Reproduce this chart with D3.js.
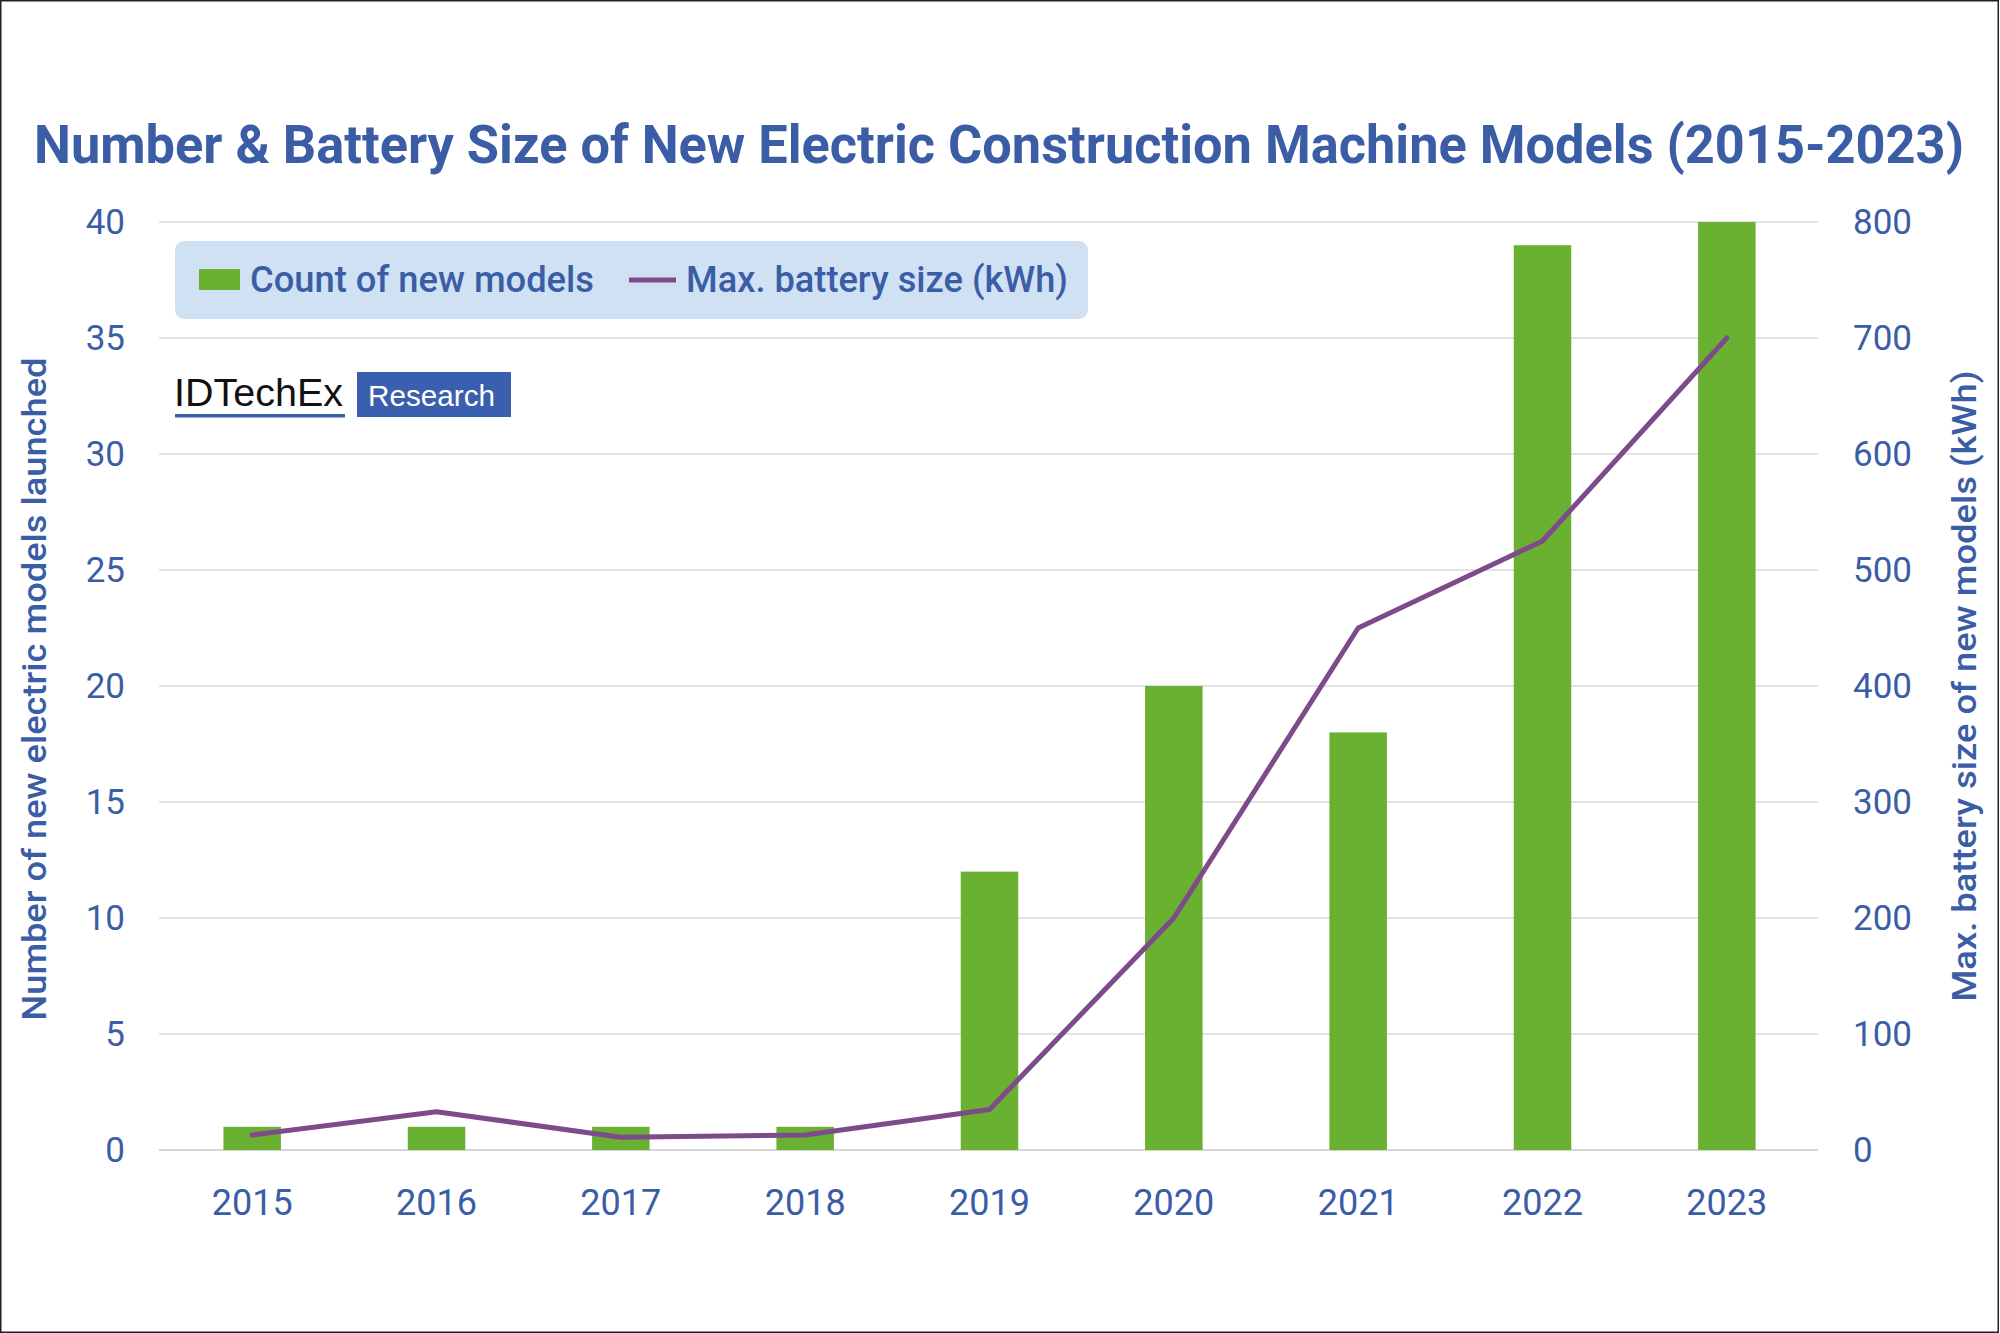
<!DOCTYPE html>
<html>
<head>
<meta charset="utf-8">
<script src="https://cdn.jsdelivr.net/npm/d3@7"></script>
<style>
  html, body { margin: 0; padding: 0; background: #fff; }
  svg { display: block; }
</style>
</head>
<body>
<svg id="chart" width="2000" height="1333"></svg>
<script>
const years = ["2015","2016","2017","2018","2019","2020","2021","2022","2023"];
const modelCounts = [1, 1, 1, 1, 12, 20, 18, 39, 40];
const maxBattery = [13, 33, 11, 13, 35, 200, 450, 525, 700];
const leftTicks = [0, 5, 10, 15, 20, 25, 30, 35, 40];
const rightTicks = [0, 100, 200, 300, 400, 500, 600, 700, 800];

const TITLE = "Number & Battery Size of New Electric Construction Machine Models (2015-2023)";
const LEFT_TITLE = "Number of new electric models launched";
const RIGHT_TITLE = "Max. battery size of new models (kWh)";
const LEGEND_BAR = "Count of new models";
const LEGEND_LINE = "Max. battery size (kWh)";

const BLUE = "#3b5da6";
const GREEN = "#6bb131";
const PURPLE = "#7d4b8b";
const FONT = "Roboto, 'Noto Sans', sans-serif";

const svg = d3.select("#chart");
svg.append("rect").attr("x", 0).attr("y", 0).attr("width", 2000).attr("height", 1333).attr("fill", "#fff");

const x = d3.scaleBand().domain(years).range([160, 1819]).padding(0);
const y = d3.scaleLinear().domain([0, 40]).range([1150, 222]);
const y2 = d3.scaleLinear().domain([0, 800]).range([1150, 222]);

// gridlines
svg.append("g").selectAll("line").data(leftTicks).join("line")
  .attr("x1", 159).attr("x2", 1818)
  .attr("y1", d => y(d)).attr("y2", d => y(d))
  .attr("stroke", d => d === 0 ? "#d6d6d6" : "#e3e3e3")
  .attr("stroke-width", 2);

// title
svg.append("text")
  .attr("x", 34).attr("y", 163)
  .attr("font-family", FONT).attr("font-weight", 700).attr("font-size", 53)
  .attr("fill", BLUE)
  .attr("textLength", 1930).attr("lengthAdjust", "spacingAndGlyphs")
  .text(TITLE);

// bars
const barW = x.bandwidth() * 0.312;
svg.append("g").selectAll("rect").data(years).join("rect")
  .attr("x", (d) => x(d) + x.bandwidth() / 2 - barW / 2)
  .attr("width", barW)
  .attr("y", (d, i) => y(modelCounts[i]))
  .attr("height", (d, i) => y(0) - y(modelCounts[i]))
  .attr("fill", GREEN);

// line
const line = d3.line()
  .x((d, i) => x(years[i]) + x.bandwidth() / 2)
  .y(d => y2(d));
svg.append("path").datum(maxBattery)
  .attr("d", line)
  .attr("fill", "none").attr("stroke", PURPLE)
  .attr("stroke-width", 5).attr("stroke-linejoin", "round").attr("stroke-linecap", "round");

// axes
function styleAxis(g) {
  g.select(".domain").remove();
  g.selectAll(".tick line").remove();
  g.selectAll("text").attr("font-family", FONT).attr("font-size", 35).attr("fill", BLUE).attr("font-weight", 400);
}
svg.append("g").attr("transform", "translate(159,0)")
  .call(d3.axisLeft(y).tickValues(leftTicks).tickSize(0).tickPadding(34))
  .call(styleAxis);
svg.append("g").attr("transform", "translate(1818,0)")
  .call(d3.axisRight(y2).tickValues(rightTicks).tickSize(0).tickPadding(35))
  .call(styleAxis);
const xa = svg.append("g").attr("transform", "translate(0,1150)")
  .call(d3.axisBottom(x).tickSize(0))
  .call(styleAxis);
xa.selectAll("text").attr("y", 65).attr("dy", 0).attr("font-size", 36);

// axis titles
svg.append("text")
  .attr("transform", "translate(46,689) rotate(-90)")
  .attr("text-anchor", "middle")
  .attr("font-family", FONT).attr("font-weight", 500).attr("font-size", 34)
  .attr("fill", BLUE)
  .attr("textLength", 663).attr("lengthAdjust", "spacingAndGlyphs")
  .text(LEFT_TITLE);
svg.append("text")
  .attr("transform", "translate(1976,686) rotate(-90)")
  .attr("text-anchor", "middle")
  .attr("font-family", FONT).attr("font-weight", 500).attr("font-size", 34)
  .attr("fill", BLUE)
  .attr("textLength", 631).attr("lengthAdjust", "spacingAndGlyphs")
  .text(RIGHT_TITLE);

// legend
const lg = svg.append("g");
lg.append("rect").attr("x", 175).attr("y", 241).attr("width", 913).attr("height", 78)
  .attr("rx", 9).attr("fill", "#cfe1f3");
lg.append("rect").attr("x", 199).attr("y", 269).attr("width", 41).attr("height", 21).attr("fill", GREEN);
lg.append("text").attr("x", 250).attr("y", 292)
  .attr("font-family", FONT).attr("font-weight", 500).attr("font-size", 36).attr("fill", BLUE)
  .attr("textLength", 344).attr("lengthAdjust", "spacingAndGlyphs")
  .text(LEGEND_BAR);
lg.append("line").attr("x1", 629).attr("x2", 676).attr("y1", 280).attr("y2", 280)
  .attr("stroke", PURPLE).attr("stroke-width", 5);
lg.append("text").attr("x", 686).attr("y", 292)
  .attr("font-family", FONT).attr("font-weight", 500).attr("font-size", 36).attr("fill", BLUE)
  .attr("textLength", 382).attr("lengthAdjust", "spacingAndGlyphs")
  .text(LEGEND_LINE);

// logo
const logo = svg.append("g");
logo.append("text").attr("x", 174).attr("y", 406)
  .attr("font-family", "'Liberation Sans', Arial, sans-serif").attr("font-size", 38)
  .attr("fill", "#111").attr("textLength", 169).attr("lengthAdjust", "spacingAndGlyphs")
  .text("IDTechEx");
logo.append("rect").attr("x", 175).attr("y", 414).attr("width", 170).attr("height", 3.5).attr("fill", "#3a5fae");
logo.append("rect").attr("x", 357).attr("y", 372).attr("width", 154).attr("height", 45).attr("fill", "#3a5fae");
logo.append("text").attr("x", 368).attr("y", 406)
  .attr("font-family", "'Liberation Sans', Arial, sans-serif").attr("font-size", 29)
  .attr("fill", "#fff").attr("textLength", 127).attr("lengthAdjust", "spacingAndGlyphs")
  .text("Research");

// frame
svg.append("rect").attr("x", 0.75).attr("y", 0.75).attr("width", 1997.5).attr("height", 1331.5)
  .attr("fill", "none").attr("stroke", "#222").attr("stroke-width", 1.5);
</script>
</body>
</html>
